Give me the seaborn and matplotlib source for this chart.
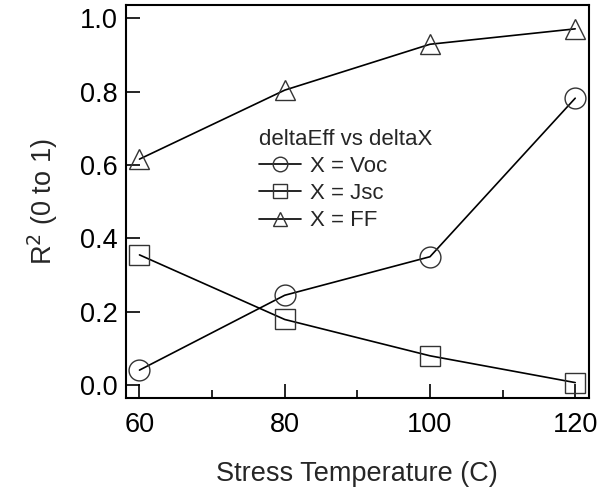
import matplotlib
matplotlib.use("Agg")
import matplotlib.pyplot as plt
import seaborn as sns
import pandas as pd
from matplotlib.ticker import MultipleLocator, FormatStrFormatter

temps = [60, 80, 100, 120]
r2_voc = [0.041, 0.245, 0.350, 0.782]
r2_jsc = [0.355, 0.179, 0.080, 0.007]
r2_ff = [0.616, 0.804, 0.929, 0.971]
labels = ["X = Voc", "X = Jsc", "X = FF"]
markers = ["o", "s", "^"]

sns.set_theme(style="ticks")
plt.rcParams["font.family"] = ["Liberation Sans", "DejaVu Sans"]
plt.rcParams["ytick.left"] = True
plt.rcParams["ytick.direction"] = "in"
plt.rcParams["xtick.direction"] = "in"

fig = plt.figure(figsize=(5.99, 4.92), dpi=100)
ax = fig.add_axes([125.7 / 599, 1 - 398 / 492, (589 - 125.7) / 599, (398 - 5) / 492])

for vals, lab, mk in zip([r2_voc, r2_jsc, r2_ff], labels, markers):
    df = pd.DataFrame({"T": temps, "R2": vals})
    sns.lineplot(data=df, x="T", y="R2", ax=ax, color="black", lw=1.2,
                 marker=mk, markersize=15,
                 markerfacecolor="none", markeredgecolor="#333333",
                 markeredgewidth=1.0, label=lab)

ax.set_xlim(58.1, 121.9)
ax.set_ylim(-0.035, 1.036)
ax.xaxis.set_major_locator(MultipleLocator(20))
ax.xaxis.set_minor_locator(MultipleLocator(10))
ax.yaxis.set_major_locator(MultipleLocator(0.2))
ax.yaxis.set_major_formatter(FormatStrFormatter("%.1f"))
ax.yaxis.set_ticks_position("left")
ax.xaxis.set_ticks_position("bottom")
ax.tick_params(axis="y", which="major", direction="in", length=10, width=1.2,
               labelsize=19.5, pad=6, color="black", labelcolor="black")
ax.tick_params(axis="x", which="major", direction="in", length=10, width=1.2,
               labelsize=19.5, pad=10, color="black", labelcolor="black")
ax.tick_params(axis="x", which="minor", direction="in", length=5.5, width=1.2,
               color="black")
for s in ax.spines.values():
    s.set_linewidth(1.5)
    s.set_color("black")

ax.set_xlabel("Stress Temperature (C)", fontsize=19.5, labelpad=16.5)
ax.set_ylabel("R$^2$ (0 to 1)", fontsize=19.5, labelpad=14)

leg = ax.legend(title="deltaEff vs deltaX", loc="upper left",
                bbox_to_anchor=(0.288, 0.685), frameon=False, fontsize=16,
                title_fontsize=16, handlelength=1.9, labelspacing=0.28,
                handletextpad=0.4, borderaxespad=0, borderpad=0,
                markerscale=0.7)
leg._legend_box.align = "left"

fig.savefig("out.png", dpi=100)
